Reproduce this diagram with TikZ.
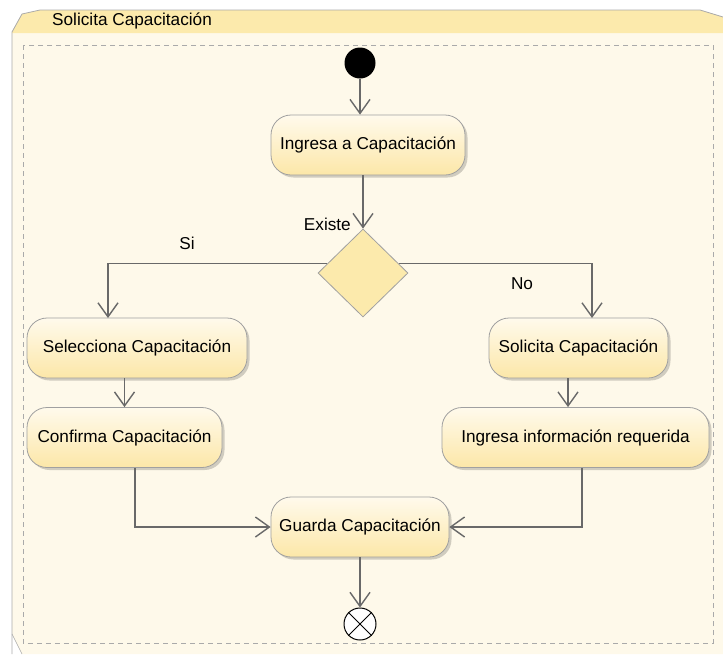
\documentclass[tikz,border=0pt]{standalone}
\usepackage{fontspec}
\setmainfont{Liberation Sans}
\usetikzlibrary{arrows.meta,shapes.geometric,shadows,calc}

\definecolor{bgcream}{RGB}{254,249,234}
\definecolor{headyellow}{RGB}{252,234,172}
\definecolor{nodetop}{RGB}{255,250,236}
\definecolor{nodebot}{RGB}{252,231,168}
\definecolor{framegray}{RGB}{170,170,170}
\definecolor{edgegray}{RGB}{105,105,105}
\definecolor{nodeborder}{RGB}{160,160,160}

\tikzset{
  txt/.style={font=\fontsize{17.2}{19}\selectfont, text=black},
  action/.style={rectangle, rounded corners=20pt, draw=nodeborder, line width=0.8pt,
    top color=nodetop, bottom color=nodebot, shading angle=0,
    drop shadow={shadow xshift=2.5pt, shadow yshift=-2.5pt, opacity=0.18, fill=black},
    minimum height=60pt, inner sep=0pt, txt},
  decision/.style={diamond, draw=nodeborder, line width=0.8pt, fill=headyellow,
    minimum width=90pt, minimum height=88pt, inner sep=0pt},
  flow/.style={draw=edgegray, line width=1.4pt,
    -{Straight Barb[length=14pt, width=20pt, line width=1.4pt]}},
  label/.style={txt, inner sep=0pt},
}

\begin{document}
\begin{tikzpicture}[x=1pt, y=-1pt]
  \useasboundingbox (0,0) rectangle (723,654);

  % swimlane frame with chamfered corners
  \fill[bgcream] (12,32) -- (22,14) -- (40,10) -- (700,10) -- (723,17)
    -- (723,654) -- (22,654) -- (12,634) -- cycle;
  \fill[headyellow] (12,33) -- (12,32) -- (22,14) -- (40,10) -- (700,10)
    -- (723,17) -- (723,33) -- cycle;
  \draw[framegray, line width=0.8pt] (12,654) -- (12,634) -- (12,32) -- (22,14)
    -- (40,10) -- (700,10) -- (723,17);
  \draw[framegray, line width=0.6pt] (12,634) -- (22,654);
  \node[label, anchor=west] (lane) at (52,21) {Solicita Capacitación};
  \draw[framegray, line width=1pt, dash pattern=on 5pt off 4pt] (23,45) rectangle (713,643);

  % nodes
  \node[circle, fill=black, minimum size=31pt, inner sep=0pt] (start) at (360,63) {};
  \node[action, minimum width=194pt] (ingresa) at (368,145) {Ingresa a Capacitación};
  \node[decision] (dec) at (363,273) {};
  \node[label, anchor=east] (existe) at (351,224) {Existe};
  \node[label] (si) at (187,243) {Si};
  \node[label] (no) at (522,284) {No};

  \node[action, minimum width=220pt] (sel) at (137,348) {Selecciona Capacitación};
  \node[action, minimum width=195pt] (conf) at (124.5,437.5) {Confirma Capacitación};
  \node[action, minimum width=179pt] (sol) at (578.5,348) {Solicita Capacitación};
  \node[action, minimum width=267pt] (ingreq) at (575.5,437.5) {Ingresa información requerida};
  \node[action, minimum width=178pt] (guarda) at (360,527) {Guarda Capacitación};

  \node[circle, draw=black, line width=1pt, fill=white, minimum size=32pt, inner sep=0pt] (fin) at (360,624) {};
  \draw[black, line width=1pt] (fin.45) -- (fin.225) (fin.135) -- (fin.315);

  % branch points on the diamond's upper edges
  \coordinate (dl) at ($(dec.west)!0.21!(dec.north)$);
  \coordinate (dr) at ($(dec.east)!0.21!(dec.north)$);
  \coordinate (selin) at (108,318);
  \coordinate (solin) at (592,318);

  % connectors
  \draw[flow] (start.south) -- (start.south |- ingresa.north);
  \draw[flow] (dec.north |- ingresa.south) -- (dec.north);
  \draw[flow] (dl) -| (selin);
  \draw[flow] (dr) -| (solin);
  \draw[flow] (conf.north |- sel.south) -- (conf.north);
  \draw[flow] ([xshift=-7.5pt]ingreq.north |- sol.south) -- ([xshift=-7.5pt]ingreq.north);
  \draw[flow] ([xshift=10.5pt]conf.south) |- (guarda.west);
  \draw[flow] ([xshift=6.5pt]ingreq.south) |- (guarda.east);
  \draw[flow] (guarda.south) -- (fin.north);
\end{tikzpicture}
\end{document}
